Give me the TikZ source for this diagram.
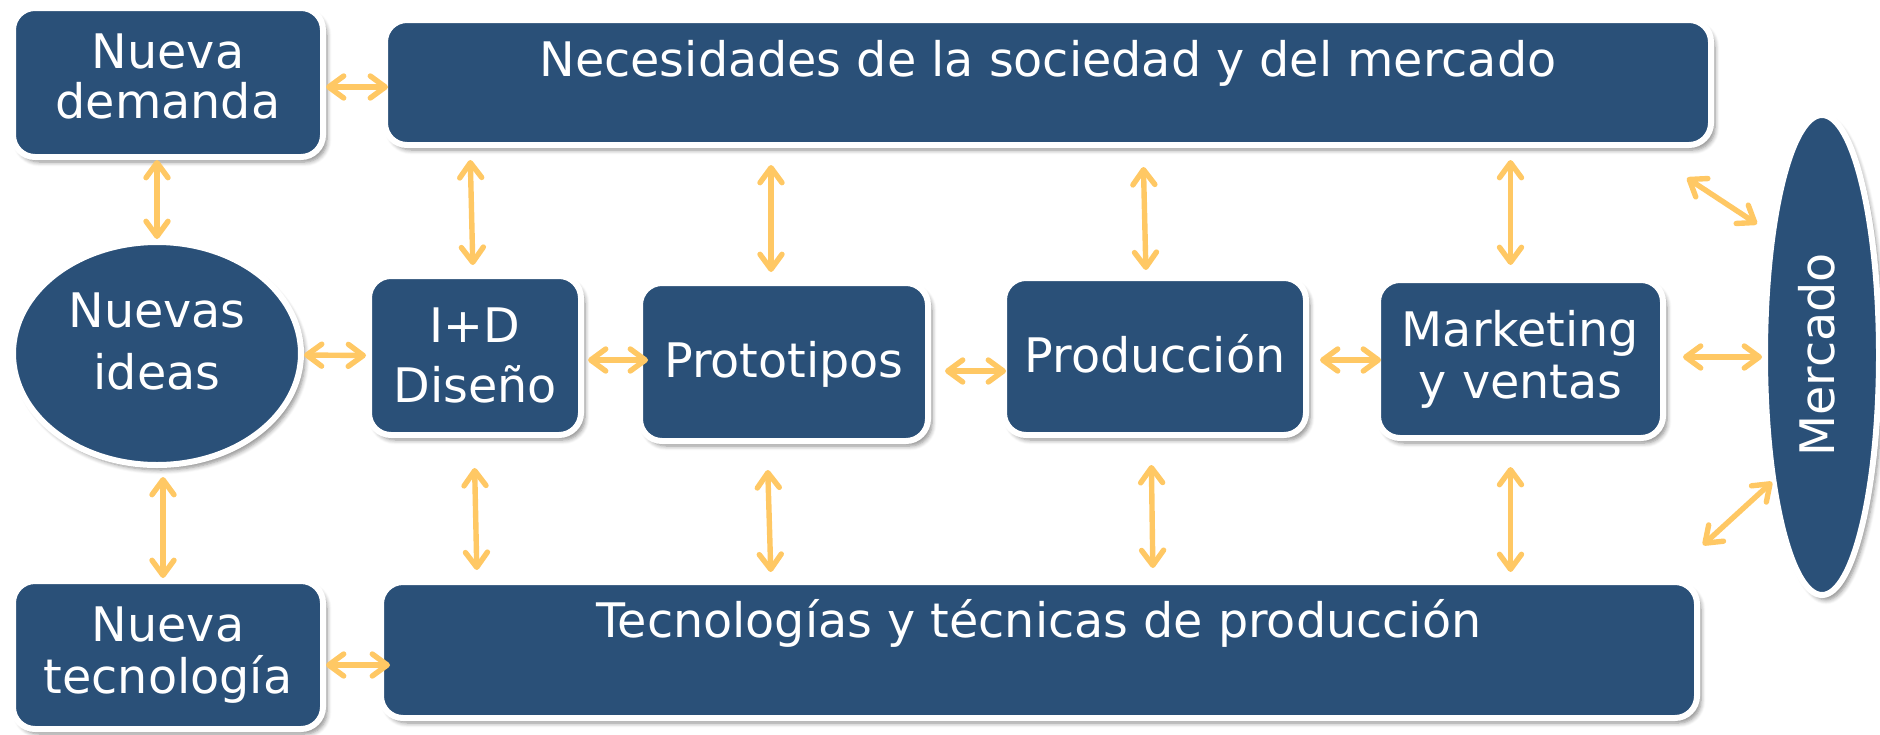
\documentclass[tikz,border=0pt]{standalone}
\usepackage{fontspec}
\setmainfont{DejaVu Sans}
\usetikzlibrary{arrows.meta,shapes.geometric,shadows.blur}
\definecolor{azul}{RGB}{42,80,120}
\definecolor{amarillo}{RGB}{255,200,100}
\begin{document}
\begin{tikzpicture}[x=0.5pt,y=-0.5pt,
caja/.style={draw=white, line width=3pt, fill=azul, rounded corners=11pt,
  text=white, align=center, font=\fontsize{23.8}{25}\selectfont,
  blur shadow={shadow xshift=2pt, shadow yshift=-2.5pt, shadow blur steps=6, shadow opacity=45}},
globo/.style={caja, ellipse, sharp corners},
flecha/.style={draw=amarillo, line width=2.7pt, line cap=round,
  {Straight Barb[length=7.5pt,width=11pt,round]}-{Straight Barb[length=7.5pt,width=11pt,round]}}]
\useasboundingbox (0,0) rectangle (1880,734);
%
\node[caja, minimum width=155pt, minimum height=74.5pt, text depth=6pt] (nd) at (168,82.5) {Nueva\\demanda};
\node[caja, minimum width=663pt, minimum height=62.5pt, text height=18pt, text depth=24.5pt] (nec) at (1048,82.5)
  {Necesidades de la sociedad y del mercado};
\node[globo, minimum width=144pt, minimum height=111.5pt, font=\fontsize{23.8}{31}\selectfont, text depth=12pt] (nid) at (157,353.5) {Nuevas\\ideas};
\node[caja, minimum width=106pt, minimum height=79.5pt, font=\fontsize{23.8}{30}\selectfont] (idd) at (475,355.5) {I+D\\Diseño};
\node[caja, minimum width=144pt, minimum height=79pt, text height=18pt, text depth=2.5pt] (pro) at (784,362) {Prototipos};
\node[caja, minimum width=151pt, minimum height=78.5pt, text height=18pt, text depth=2pt] (prd) at (1155,356.5) {Producción};
\node[caja, minimum width=142.5pt, minimum height=79pt, font=\fontsize{23.8}{26}\selectfont] (mkt) at (1520.5,359) {Marketing\\y ventas};
\node[globo, rotate=90, minimum width=240pt, minimum height=57pt, text height=18pt, text depth=6pt] (mer) at (1822,355) {Mercado}; % girado: mer.north queda a la izquierda
\node[caja, minimum width=155pt, minimum height=74pt, font=\fontsize{23.8}{26}\selectfont] (nt) at (168,655) {Nueva\\tecnología};
\node[caja, minimum width=658pt, minimum height=68pt, text height=18pt, text depth=30.5pt] (tec) at (1039,650)
  {Tecnologías y técnicas de producción};
%
\draw[flecha, shorten >=-3pt] ([yshift=-2.25pt]nd.east) -- ([yshift=-2.25pt]nec.west);
\draw[flecha] (nid.north |- nd.south) -- (nid.north);
\draw[flecha, shorten <=4.5pt] ([xshift=3pt]nid.south) -- ([xshift=3pt]nid.south |- nt.north);
\draw[flecha, shorten >=-6pt] ([yshift=-5pt]nt.east) -- ([yshift=-7.5pt]tec.west); % fila de abajo
%
\draw[flecha] ([yshift=-0.75pt]nid.east) -- (idd.west);
\draw[flecha, shorten <=2pt, shorten >=-5.5pt] ([yshift=-2.25pt]idd.east) -- ([yshift=1pt]pro.west);
\draw[flecha, shorten <=7pt, shorten >=-2.5pt] ([yshift=-4.5pt]pro.east) -- ([yshift=-7.25pt]prd.west);
\draw[flecha, shorten <=5.5pt, shorten >=-3pt] ([yshift=-1.75pt]prd.east) -- ([yshift=-0.5pt]mkt.west);
\draw[flecha, shorten <=8.5pt] ([yshift=1pt]mkt.east) -- ([yshift=-1pt]mer.north);
%
\draw[flecha, shorten <=6pt, shorten >=4pt] ([xshift=-2.5pt]idd.north |- nec.south) -- ([xshift=-1pt]idd.north);
\draw[flecha, shorten <=8.5pt, shorten >=4pt] ([xshift=-6.5pt]pro.north |- nec.south) -- ([xshift=-6.5pt]pro.north);
\draw[flecha, shorten <=9.5pt, shorten >=2.5pt] ([xshift=-6pt]prd.north |- nec.south) -- ([xshift=-4.5pt]prd.north);
\draw[flecha, shorten <=6pt, shorten >=6pt] ([xshift=-5pt]mkt.north |- nec.south) -- ([xshift=-5pt]mkt.north);
%
\draw[flecha, shorten <=15pt, shorten >=4.5pt] ([xshift=-0.5pt]idd.south) -- ([xshift=1pt]idd.south |- tec.north);
\draw[flecha, shorten <=13pt, shorten >=3.5pt] ([xshift=-8.5pt]pro.south) -- ([xshift=-6.5pt]pro.south |- tec.north);
\draw[flecha, shorten <=13.5pt, shorten >=5.5pt] ([xshift=-2pt]prd.south) -- ([xshift=-1pt]prd.south |- tec.north);
\draw[flecha, shorten <=13pt, shorten >=3.5pt] ([xshift=-5pt]mkt.south) -- ([xshift=-5pt]mkt.south |- tec.north);
%
\draw[flecha] ([xshift=-13.5pt,yshift=-15pt]nec.south east) -- ([xshift=-2.5pt,yshift=65.5pt]mer.north);
\draw[flecha] ([xshift=1.5pt,yshift=17pt]tec.north east) -- ([xshift=5pt,yshift=-63.5pt]mer.north); % diagonales al mercado
\end{tikzpicture}
\end{document}
